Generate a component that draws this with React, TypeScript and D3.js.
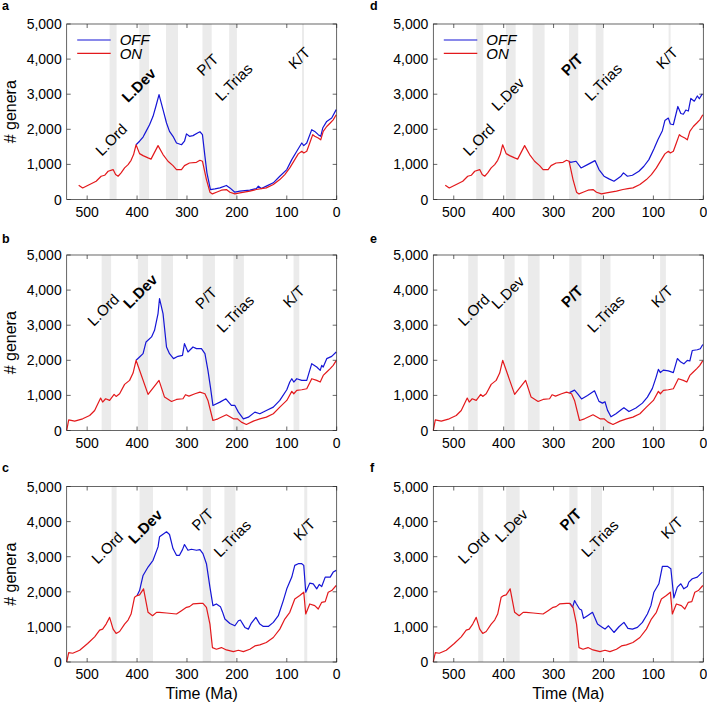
import React from 'react';
import * as d3 from 'd3';

type Pt = [number, number];

const X_TICKS = [500, 400, 300, 200, 100, 0];
const Y_TICKS = [0, 1000, 2000, 3000, 4000, 5000];
const X_DOMAIN: Pt = [541, 0];
const Y_DOMAIN: Pt = [0, 5000];
const EVENT_NAMES = ['L.Ord', 'L.Dev', 'P/T', 'L.Trias', 'K/T'];
const SERIES_NAMES = ['OFF', 'ON'];

// ON series (red), shared by panel pairs a/d, b/e, c/f
const ON_AD: Pt[] = [[517,407],[509,330],[495,426],[482,520],[472,663],[465,690],[458,805],[448,852],[443,710],[438,663],[432,758],[425,900],[418,994],[412,1117],[407,1280],[402,1560],[395,1307],[388,1250],[378,1185],[372,1150],[358,1535],[348,1280],[338,1090],[328,966],[321,852],[311,852],[305,966],[295,1040],[281,1060],[274,1117],[269,1090],[261,568],[254,208],[249,160],[241,208],[231,265],[221,284],[214,208],[204,160],[194,190],[174,237],[161,284],[151,312],[141,331],[127,426],[114,568],[104,710],[94,900],[84,1136],[77,1300],[70,1373],[66,1325],[60,1373],[54,1610],[48,1847],[44,1800],[37,1750],[32,1700],[27,1940],[20,2080],[13,2180],[7,2270],[1,2415]];
const ON_BE: Pt[] = [[541,0],[537,305],[525,267],[509,333],[495,428],[485,571],[473,923],[469,810],[463,905],[455,857],[446,1028],[442,971],[435,1047],[425,1314],[415,1428],[408,1637],[402,2000],[378,1028],[356,1428],[345,952],[331,828],[321,885],[308,904],[303,1019],[296,980],[284,1047],[274,1095],[264,1047],[258,857],[248,285],[238,333],[221,447],[207,333],[199,333],[191,238],[181,171],[167,267],[154,333],[141,380],[127,476],[114,666],[100,857],[90,1114],[86,1047],[80,1142],[70,1161],[60,1190],[50,1475],[40,1428],[33,1380],[27,1570],[20,1666],[13,1761],[7,1856],[1,1990]];
const ON_CF: Pt[] = [[541,0],[537,268],[529,249],[515,335],[499,526],[485,717],[475,908],[469,937],[462,1080],[455,1271],[448,937],[442,813],[435,870],[425,1080],[418,1195],[412,1367],[405,1845],[400,1893],[395,1912],[387,2084],[378,1415],[369,1319],[361,1415],[355,1415],[341,1396],[321,1367],[311,1463],[301,1558],[295,1577],[288,1654],[274,1673],[268,1673],[261,1558],[254,1080],[249,411],[241,363],[231,411],[221,344],[207,296],[197,335],[187,296],[174,363],[164,459],[154,488],[141,554],[127,698],[114,937],[104,1224],[94,1415],[84,1797],[74,1893],[66,1988],[62,1367],[54,1654],[44,1606],[37,1510],[30,1701],[23,1720],[17,1988],[10,2036],[1,2180]];

// OFF series (blue), only where they diverge from ON
const OFF_A: Pt[] = [[402,1560],[395,1660],[388,1780],[382,1940],[375,2130],[368,2370],[362,2670],[356,2990],[348,2560],[341,2180],[335,1940],[328,1800],[321,1610],[311,1560],[305,1660],[301,1870],[295,1800],[288,1820],[278,1900],[274,1930],[269,1850],[264,1230],[260,760],[253,284],[244,303],[234,330],[221,400],[214,330],[204,208],[194,237],[174,265],[161,312],[157,380],[151,312],[141,380],[127,475],[114,663],[100,852],[90,1136],[80,1373],[70,1610],[66,1535],[60,1610],[50,1990],[44,1940],[37,1847],[32,1800],[28,2036],[20,2225],[10,2320],[1,2560]];
const OFF_B: Pt[] = [[402,2000],[395,2094],[388,2190],[382,2523],[371,2666],[365,2856],[358,3332],[355,3760],[348,3332],[341,2380],[335,2190],[327,2047],[318,2113],[309,2142],[305,2475],[298,2237],[288,2380],[281,2332],[271,2332],[264,2190],[258,1714],[253,1238],[248,714],[234,809],[222,904],[211,714],[204,714],[197,523],[187,333],[177,380],[164,523],[154,476],[141,571],[127,666],[114,857],[100,1161],[94,1380],[90,1475],[86,1380],[80,1475],[70,1428],[60,1428],[50,1904],[40,1808],[33,1713],[30,1856],[27,1808],[20,2047],[10,2113],[1,2237]];
const OFF_C: Pt[] = [[400,1893],[395,2036],[388,2466],[378,2705],[368,2897],[358,3279],[355,3566],[348,3642],[341,3709],[335,3633],[328,3231],[321,3040],[315,3040],[309,3202],[305,3346],[298,3183],[291,3212],[281,3183],[274,3202],[268,3088],[261,2801],[254,2132],[248,1606],[241,1654],[233,1577],[229,1434],[224,1224],[214,1099],[204,1032],[197,1176],[193,1195],[184,985],[177,937],[171,1109],[162,1271],[154,1080],[147,1013],[137,1013],[127,1128],[117,1319],[107,1749],[100,2084],[90,2419],[84,2753],[77,2801],[70,2801],[66,2753],[62,1988],[54,2247],[47,2228],[40,2084],[35,2208],[30,2151],[23,2419],[13,2419],[7,2562],[1,2610]];
const OFF_D: Pt[] = [[269,1090],[266,1060],[255,1090],[245,900],[232,994],[217,1108],[209,852],[199,663],[189,587],[179,520],[165,663],[160,758],[152,663],[142,690],[129,805],[119,947],[109,1136],[99,1440],[91,1700],[82,1960],[77,2250],[70,2320],[66,2150],[60,2130],[51,2650],[45,2450],[40,2430],[35,2550],[30,2520],[25,2880],[18,2800],[12,2950],[8,2870],[2,3010]];
const OFF_E: Pt[] = [[268,1080],[258,1150],[252,1050],[244,900],[232,1000],[218,1130],[209,830],[202,780],[197,820],[192,580],[185,390],[175,480],[162,620],[159,650],[149,540],[135,640],[122,780],[112,950],[102,1200],[95,1500],[90,1740],[86,1650],[80,1720],[70,1700],[60,1650],[52,2050],[45,1950],[39,1900],[32,2000],[27,1980],[22,2280],[12,2300],[6,2330],[1,2450]];
const OFF_F: Pt[] = [[268,1673],[266,1654],[262,1558],[258,1750],[255,1673],[248,1510],[244,1482],[240,1243],[232,1319],[222,1415],[212,1080],[202,985],[197,937],[190,1032],[179,841],[169,1004],[159,1128],[151,956],[142,937],[132,985],[122,1128],[112,1367],[105,1606],[99,1988],[89,2228],[82,2725],[72,2725],[65,2658],[59,1826],[52,2132],[45,2228],[39,2084],[32,2151],[29,2276],[22,2371],[12,2419],[2,2562]];

// extinction intervals (Ma)
const BANDS_1: Pt[] = [[455,441],[395.5,376],[342,318],[269,250.5],[215.5,200],[69.5,65.5]];
const BANDS_2: Pt[] = [[471,452],[398.5,378],[351.5,328],[268.5,244],[207,186],[86.5,75]];
const BANDS_3: Pt[] = [[451,441],[395,368],[268.5,252],[225,203],[65,59]];

// label anchors (Ma, genera) in order of EVENT_NAMES
const LABELS_A: Pt[] = [[471,1219],[418,2740],[268,3500],[231,2786],[84,3690]];
const LABELS_B: Pt[] = [[487,2951],[415,3448],[271,3430],[228,2763],[95,3477]];
const LABELS_C: Pt[] = [[479,2770],[405,3340],[278,3716],[234,2960],[74,3432]];
const LABELS_D: Pt[] = [[469,1219],[412,2500],[272,3500],[225,2786],[82,3690]];
const LABELS_E: Pt[] = [[479,2951],[412,3430],[272,3477],[220,2763],[92,3477]];
const LABELS_F: Pt[] = [[479,2770],[405,3386],[275,3716],[232,2960],[72,3480]];

const PANELS = [
  { id: 'a', col: 0, row: 0, on: ON_AD, off: OFF_A, bands: BANDS_1, labels: LABELS_A, bold: 'L.Dev', legend: true },
  { id: 'b', col: 0, row: 1, on: ON_BE, off: OFF_B, bands: BANDS_2, labels: LABELS_B, bold: 'L.Dev', legend: false },
  { id: 'c', col: 0, row: 2, on: ON_CF, off: OFF_C, bands: BANDS_3, labels: LABELS_C, bold: 'L.Dev', legend: false },
  { id: 'd', col: 1, row: 0, on: ON_AD, off: OFF_D, bands: BANDS_1, labels: LABELS_D, bold: 'P/T', legend: true },
  { id: 'e', col: 1, row: 1, on: ON_BE, off: OFF_E, bands: BANDS_2, labels: LABELS_E, bold: 'P/T', legend: false },
  { id: 'f', col: 1, row: 2, on: ON_CF, off: OFF_F, bands: BANDS_3, labels: LABELS_F, bold: 'P/T', legend: false },
];

const COL_X = [66.7, 433.3];
const ROW_Y = [24, 255, 486.5];
const LETTER_Y = [9.5, 242.5, 471.5];
const PW = 270;
const PH = 175.5;
const FONT = 'Liberation Sans, Arial, Helvetica, sans-serif';
const AX = '#262626';
const BLUE = '#1515d6';
const RED = '#e3191c';
const BAND = '#ebebeb';

const fmt = d3.format(',');

function Panel({ p }: { p: any }) {
  const x0 = COL_X[p.col];
  const y0 = ROW_Y[p.row];
  const x = d3.scaleLinear().domain(X_DOMAIN).range([x0, x0 + PW]);
  const y = d3.scaleLinear().domain(Y_DOMAIN).range([y0 + PH, y0]);
  const line = d3.line<Pt>().x(d => x(d[0])).y(d => y(d[1]));
  const tl = 4;
  return (
    <g>
      <text x={p.col === 0 ? 2 : 370} y={LETTER_Y[p.row]} fontSize={12.5} fontWeight="bold" fontFamily={FONT}>{p.id}</text>
      {p.bands.map((b: Pt, i: number) => (
        <rect key={i} x={x(b[0])} y={y0} width={x(b[1]) - x(b[0])} height={PH} fill={BAND} />
      ))}
      <path d={line(p.off) || ''} fill="none" stroke={BLUE} strokeWidth={1.2} strokeLinejoin="round" />
      <path d={line(p.on) || ''} fill="none" stroke={RED} strokeWidth={1.2} strokeLinejoin="round" />
      <rect x={x0} y={y0} width={PW} height={PH} fill="none" stroke={AX} strokeWidth={0.7} />
      {X_TICKS.map(t => (
        <g key={'x' + t}>
          <line x1={x(t)} x2={x(t)} y1={y0 + PH} y2={y0 + PH - tl} stroke={AX} strokeWidth={0.7} />
          <line x1={x(t)} x2={x(t)} y1={y0} y2={y0 + tl} stroke={AX} strokeWidth={0.7} />
          <text x={x(t)} y={y0 + PH + 17} textAnchor="middle" fontSize={14} fontFamily={FONT}>{t}</text>
        </g>
      ))}
      {Y_TICKS.map(v => (
        <g key={'y' + v}>
          <line x1={x0} x2={x0 + tl} y1={y(v)} y2={y(v)} stroke={AX} strokeWidth={0.7} />
          <line x1={x0 + PW} x2={x0 + PW - tl} y1={y(v)} y2={y(v)} stroke={AX} strokeWidth={0.7} />
          <text x={x0 - 5} y={y(v)} dy="0.36em" textAnchor="end" fontSize={14} fontFamily={FONT}>{fmt(v)}</text>
        </g>
      ))}
      {p.labels.map((l: Pt, i: number) => (
        <text key={'l' + i} transform={`translate(${x(l[0])},${y(l[1])}) rotate(-45)`} fontSize={15}
          fontWeight={EVENT_NAMES[i] === p.bold ? 'bold' : 'normal'} fontFamily={FONT}>{EVENT_NAMES[i]}</text>
      ))}
      {p.legend && [BLUE, RED].map((c, i) => (
        <g key={'lg' + i}>
          <line x1={x0 + 10.5} x2={x0 + 44} y1={y0 + 16 + i * 13.3} y2={y0 + 16 + i * 13.3} stroke={c} strokeWidth={1.2} />
          <text x={x0 + 53} y={y0 + 16 + i * 13.3} dy="0.36em" fontSize={15} fontStyle="italic" fontFamily={FONT}>{SERIES_NAMES[i]}</text>
        </g>
      ))}
      {p.col === 0 && (
        <text transform={`translate(16,${y0 + PH / 2}) rotate(-90)`} textAnchor="middle" fontSize={16} fontFamily={FONT}># genera</text>
      )}
      {p.row === 2 && (
        <text x={x0 + PW / 2} y={y0 + PH + 37} textAnchor="middle" fontSize={16} fontFamily={FONT}>Time (Ma)</text>
      )}
    </g>
  );
}

export default function App() {
  return (
    <div style={{ position: 'absolute', left: 0, top: 0 }}>
      <svg width={707} height={707} style={{ display: 'block', background: '#fff' }}>
        {PANELS.map(p => <Panel key={p.id} p={p} />)}
      </svg>
    </div>
  );
}
